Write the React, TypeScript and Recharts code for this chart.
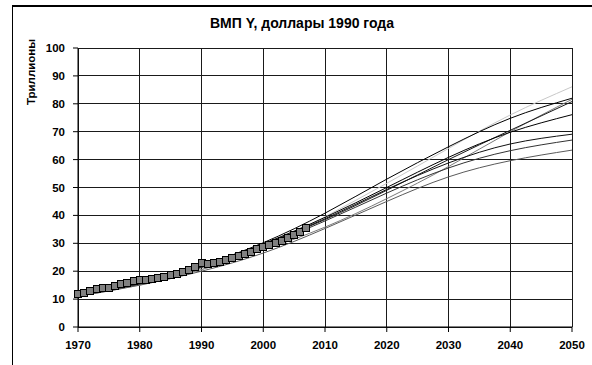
import React from 'react';
import { LineChart, Line, XAxis, YAxis, CartesianGrid } from 'recharts';

// World GDP, trillions of 1990 dollars (squares), 1970..2007
const historyStart = 1970;
const gdpHistory = [
  11.7, 12.2, 13.0, 13.6, 13.9, 14.0, 14.7, 15.3, 15.9, 16.4,
  16.7, 16.9, 17.1, 17.4, 18.0, 18.6, 19.1, 19.7, 20.6, 21.6,
  22.8, 22.6, 23.0, 23.4, 24.0, 24.6, 25.4, 26.2, 26.8, 27.8,
  28.8, 29.3, 30.0, 30.8, 32.0, 33.0, 34.2, 35.6,
];

// scenario curves, read at every decade
const projYears = [1970, 1980, 1990, 2000, 2010, 2020, 2030, 2040, 2050];
const scenarioA = [11.0, 15.0, 20.5, 28.5, 39.5, 51.5, 64.0, 76.0, 86.1];
const scenarioB = [11.5, 15.8, 22.0, 30.2, 40.8, 53.0, 64.6, 74.8, 82.0];
const scenarioC = [11.0, 15.2, 20.6, 27.6, 35.8, 46.0, 57.5, 70.0, 81.6];
const scenarioD = [11.3, 15.5, 21.5, 29.5, 38.5, 49.0, 60.0, 70.5, 80.8];
const scenarioE = [11.3, 15.6, 21.7, 29.8, 39.3, 50.0, 60.8, 69.8, 76.1];
const scenarioF = [11.3, 15.5, 21.6, 29.6, 38.8, 49.3, 58.8, 65.6, 69.1];
const scenarioG = [11.2, 15.4, 21.3, 29.0, 38.0, 48.0, 57.0, 63.2, 67.0];
const scenarioH = [11.0, 15.0, 20.0, 26.5, 35.3, 45.0, 53.8, 59.6, 63.4];

const xTicks = [1970, 1980, 1990, 2000, 2010, 2020, 2030, 2040, 2050];
const yTicks = [0, 10, 20, 30, 40, 50, 60, 70, 80, 90, 100];

const scenarios = [
  { key: 'a', values: scenarioA, color: '#c8c8c8' },
  { key: 'b', values: scenarioB, color: '#000000' },
  { key: 'c', values: scenarioC, color: '#7a7a7a' },
  { key: 'd', values: scenarioD, color: '#1a1a1a' },
  { key: 'e', values: scenarioE, color: '#000000' },
  { key: 'f', values: scenarioF, color: '#111111' },
  { key: 'g', values: scenarioG, color: '#333333' },
  { key: 'h', values: scenarioH, color: '#5a5a5a' },
];

const histYears = gdpHistory.map((_, i) => historyStart + i);
const allYears = Array.from(new Set([...histYears, ...projYears])).sort((a, b) => a - b);

const rows = allYears.map((year) => {
  const row: Record<string, number | null> = { year };
  const hi = histYears.indexOf(year);
  row.hist = hi >= 0 ? gdpHistory[hi] : null;
  const pi = projYears.indexOf(year);
  scenarios.forEach((s) => {
    row[s.key] = pi >= 0 ? s.values[pi] : null;
  });
  return row;
});

const FONT = 'Arial, "Liberation Sans", sans-serif';
const tickStyle = { fontSize: 11.5, fontWeight: 'bold', fill: '#000', fontFamily: FONT };

const Square = (props: any) => {
  const { cx, cy } = props;
  if (cx == null || cy == null) return null;
  return (
    <rect
      x={Math.round(cx) - 3.5}
      y={Math.round(cy) - 3.5}
      width={7}
      height={7}
      fill="#808080"
      stroke="#000"
      strokeWidth={1}
    />
  );
};

export default function App() {
  return (
    <div style={{ position: 'absolute', left: 0, top: 0, width: 592, height: 365, background: '#fff', overflow: 'hidden', fontFamily: FONT }}>
      <div style={{ position: 'absolute', left: 12, top: 5, width: 620, height: 400, border: '1px solid #000', borderTopWidth: 2 }} />
      <div style={{ position: 'absolute', left: 12, width: 580, top: 15, textAlign: 'center', fontSize: 14, fontWeight: 'bold' }}>
        ВМП Y, доллары 1990 года
      </div>
      <div
        style={{
          position: 'absolute', left: 31, top: 72, fontSize: 11.5, fontWeight: 'bold',
          transform: 'translate(-50%, -50%) rotate(-90deg)', whiteSpace: 'nowrap',
        }}
      >
        Триллионы
      </div>
      <div style={{ position: 'absolute', left: 0, top: 0 }}>
        <LineChart width={592} height={365} data={rows} margin={{ top: 48, right: 20, left: 18, bottom: 8 }}>
          <CartesianGrid stroke="#1a1a1a" strokeWidth={1} shapeRendering="crispEdges" />
          <XAxis
            dataKey="year"
            type="number"
            domain={[1970, 2050]}
            ticks={xTicks}
            tick={tickStyle}
            tickSize={5}
            tickMargin={9}
            height={30}
            stroke="#000"
            interval={0}
          />
          <YAxis
            type="number"
            domain={[0, 100]}
            ticks={yTicks}
            tick={tickStyle}
            tickSize={5}
            tickMargin={8}
            width={60}
            stroke="#000"
            interval={0}
          />
          {scenarios.map((s) => (
            <Line
              key={s.key}
              dataKey={s.key}
              type="natural"
              stroke={s.color}
              strokeWidth={1}
              dot={false}
              connectNulls
              isAnimationActive={false}
            />
          ))}
          <Line
            dataKey="hist"
            stroke="none"
            dot={<Square />}
            activeDot={false}
            isAnimationActive={false}
          />
        </LineChart>
      </div>
    </div>
  );
}
